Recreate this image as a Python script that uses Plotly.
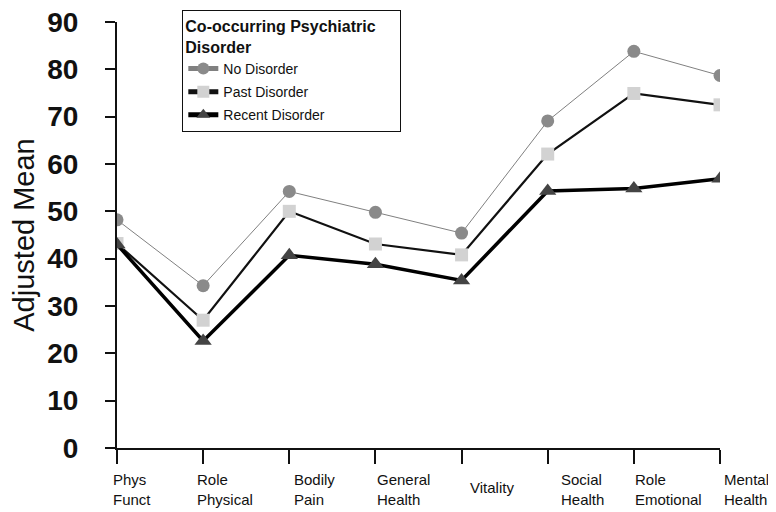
import plotly.graph_objects as go

categories = ["Phys<br>Funct", "Role<br>Physical", "Bodily<br>Pain", "General<br>Health",
              "Vitality", "Social<br>Health", "Role<br>Emotional", "Mental<br>Health"]
no_disorder = [48.2, 34.3, 54.2, 49.8, 45.4, 69.1, 83.8, 78.7]
past_disorder = [43.2, 27.0, 50.0, 43.1, 40.8, 62.1, 74.9, 72.5]
recent_disorder = [43.0, 22.6, 40.7, 38.8, 35.4, 54.3, 54.8, 56.9]
y_ticks = [0, 10, 20, 30, 40, 50, 60, 70, 80, 90]
label_shift = [-6, -8, 3, 0, 6, 11, -1, 2]

x = list(range(len(categories)))
font = "Liberation Sans, Arial, sans-serif"

fig = go.Figure()
fig.add_trace(go.Scatter(x=x, y=no_disorder, name="No Disorder", mode="lines+markers",
                         legendgroup="a",
                         line=dict(color="#808080", width=1),
                         marker=dict(symbol="circle", size=13, color="#8a8a8a")))
fig.add_trace(go.Scatter(x=x, y=past_disorder, name="Past Disorder", mode="lines+markers",
                         legendgroup="b",
                         line=dict(color="#111111", width=2.2),
                         marker=dict(symbol="square", size=13, color="#d2d2d2")))
fig.add_trace(go.Scatter(x=x, y=recent_disorder, name="Recent Disorder", mode="lines+markers",
                         legendgroup="c",
                         line=dict(color="#000000", width=3.5),
                         marker=dict(symbol="triangle-up", size=15, color="#444444")))

for i, lab in enumerate(categories):
    fig.add_annotation(x=i, y=0, xref="x", yref="paper", text=lab, showarrow=False,
                       xanchor="left", yanchor="top", align="left", xshift=label_shift[i],
                       yshift=-21 if "<br>" in lab else -29,
                       font=dict(family=font, size=15, color="#111111"))

fig.update_layout(
    width=768, height=504,
    margin=dict(l=109, r=56, t=14, b=64, autoexpand=False),
    paper_bgcolor="white", plot_bgcolor="white",
    font=dict(family=font, color="#111111"),
    showlegend=True,
    legend=dict(x=0.108, y=1.028, xanchor="left", yanchor="top",
                bordercolor="#111111", borderwidth=1.2, bgcolor="white",
                font=dict(size=14, family=font),
                title=dict(text="Co-occurring Psychiatric&nbsp;&nbsp;&nbsp;&nbsp;&nbsp;<br>Disorder",
                           font=dict(size=16, family=font, weight="bold")),
                itemwidth=30, tracegroupgap=2, itemsizing="constant"),
    xaxis=dict(range=[0, 7], tickvals=x, showticklabels=False, ticks="outside", ticklen=14,
               tickwidth=2, tickcolor="#111111", showline=True, linecolor="#111111", linewidth=2,
               showgrid=False, zeroline=False),
    yaxis=dict(range=[0, 90], tickvals=y_ticks, ticks="outside", ticklen=10, tickwidth=2,
               tickcolor="#111111", showline=True, linecolor="#111111", linewidth=2,
               showgrid=False, zeroline=False, ticklabelstandoff=21, ticklabeloverflow="allow",
               tickfont=dict(size=28, family=font, weight="bold", color="#111111"),
               title=dict(text="Adjusted Mean", font=dict(size=29, family=font, color="#111111"),
                          standoff=42)),
)

fig.write_html("out.html")
